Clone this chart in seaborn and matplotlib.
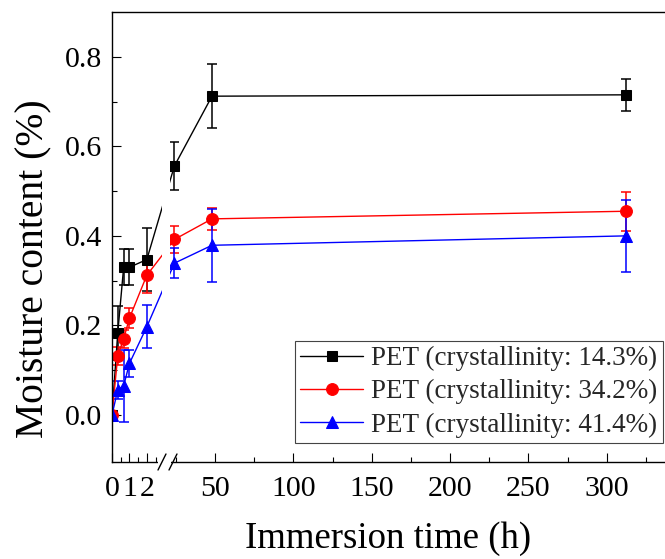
import numpy as np
import matplotlib
matplotlib.use("Agg")
import matplotlib.pyplot as plt
import seaborn as sns
from matplotlib.patches import Rectangle
from matplotlib.ticker import FixedLocator, FixedFormatter

# ---------------- data ----------------
time_h = [0, 0.33, 0.67, 1, 2, 24, 48, 312]
series_labels = ["PET (crystallinity: 14.3%)",
                 "PET (crystallinity: 34.2%)",
                 "PET (crystallinity: 41.4%)"]
moist_143 = [0.0, 0.183, 0.330, 0.330, 0.347, 0.556, 0.712, 0.715]
err_143 = [0.005, 0.060, 0.040, 0.040, 0.070, 0.054, 0.071, 0.035]
moist_342 = [0.0, 0.132, 0.170, 0.216, 0.312, 0.392, 0.438, 0.455]
err_342 = [0.005, 0.020, 0.020, 0.022, 0.040, 0.030, 0.025, 0.043]
moist_414 = [0.0, 0.056, 0.065, 0.115, 0.197, 0.339, 0.379, 0.400]
err_414 = [0.005, 0.020, 0.080, 0.030, 0.048, 0.033, 0.082, 0.080]

major_ticks = [0, 1, 2, 50, 100, 150, 200, 250, 300]
major_labels = ["0", "1", "2", "50", "100", "150", "200", "250", "300"]
minor_ticks = [0.5, 1.5, 2.5, 25, 75, 125, 175, 225, 275, 325]

# ---------------- style ----------------
sns.set_theme(style="ticks")
plt.rcParams["font.family"] = ["Liberation Serif", "DejaVu Serif"]

W, H = 665, 559
fig = plt.figure(figsize=(W / 100, H / 100), dpi=100)
ax_left, ax_right, ax_top, ax_bot = 112, 665, 12, 462
ax = fig.add_axes([ax_left / W, (H - ax_bot) / H,
                   (ax_right - ax_left) / W, (ax_bot - ax_top) / H])

# broken x axis as a piecewise-linear function scale
B1, B2 = 2.65, 20.0
K1, K2, GAP = 17.4, 1.5667, 10.0
P1 = B1 * K1
P2 = P1 + GAP


def fwd(x):
    x = np.asarray(x, dtype=float)
    return np.where(x <= B1, x * K1,
                    np.where(x >= B2, P2 + (x - B2) * K2,
                             P1 + (x - B1) * (GAP / (B2 - B1))))


def inv(d):
    d = np.asarray(d, dtype=float)
    return np.where(d <= P1, d / K1,
                    np.where(d >= P2, B2 + (d - P2) / K2,
                             B1 + (d - P1) * ((B2 - B1) / GAP)))


ax.set_xscale("function", functions=(fwd, inv))

colors = ["black", "#ff0000", "#0000ff"]
markers = ["s", "o", "^"]
msizes = [7, 8.5, 9]
values = [moist_143, moist_342, moist_414]
errors = [err_143, err_342, err_414]

for lab, vals, errs, c, m, ms in zip(series_labels, values, errors, colors, markers, msizes):
    ax.errorbar(time_h, vals, yerr=errs, fmt="none", ecolor=c, elinewidth=1.1,
                capsize=3.8, capthick=1.1, zorder=2)
    sns.lineplot(x=time_h, y=vals, color=c, marker=m, markersize=ms,
                 markeredgecolor=c, markerfacecolor=c, linewidth=1.0,
                 label=lab, ax=ax, zorder=2.1)

XR = B2 + ((ax_right - ax_left) - P2) / K2
ax.set_xlim(0, XR)
ax.set_ylim(-0.105, 0.9)

ax.xaxis.set_major_locator(FixedLocator(major_ticks))
ax.xaxis.set_major_formatter(FixedFormatter(major_labels))
ax.xaxis.set_minor_locator(FixedLocator(minor_ticks))
ax.set_yticks([0.0, 0.2, 0.4, 0.6, 0.8])
ax.set_yticklabels(["0.0", "0.2", "0.4", "0.6", "0.8"])
ax.yaxis.set_minor_locator(FixedLocator([0.1, 0.3, 0.5, 0.7]))

ax.tick_params(which="both", direction="in", width=0.8, colors="black",
               labelsize=21.5)
ax.tick_params(axis="y", which="both", pad=7)
ax.tick_params(axis="x", which="both", pad=10)
ax.tick_params(which="major", length=6.5)
ax.tick_params(which="minor", length=3.6)
ax.tick_params(axis="y", which="both", right=False)
ax.tick_params(axis="x", which="both", top=False)

for s in ["left", "bottom", "top"]:
    ax.spines[s].set_linewidth(1.0)
    ax.spines[s].set_color("black")
ax.spines["right"].set_visible(False)

# gap in the data lines and bottom spine
xt = ax.get_xaxis_transform()
ax.add_patch(Rectangle((9.4, 0.0), 21.0 - 9.4, 0.995, transform=xt,
                       facecolor="white", edgecolor="none", zorder=2.3))
ax.add_patch(Rectangle((2.75, -0.008), 22.0 - 2.75, 0.016, transform=xt,
                       facecolor="white", edgecolor="none", zorder=3,
                       clip_on=False))
for x0 in (0.0832, 0.1031):
    ax.plot([x0, x0 + 0.0144], [-0.0178, 0.0178], transform=ax.transAxes,
            color="black", lw=1.0, clip_on=False, zorder=4)

ax.set_xlabel("Immersion time (h)", fontsize=26.5, color="black")
ax.set_ylabel("Moisture content (%)", fontsize=28.5, color="black")
ax.xaxis.set_label_coords(0.5, -0.133)
ax.yaxis.set_label_coords(-0.108, 0.43)

handles, labels = ax.get_legend_handles_labels()
leg = ax.legend(handles, labels, loc="lower right", bbox_to_anchor=(0.9955, 0.042),
                borderaxespad=0, fontsize=19.5, frameon=True, fancybox=False,
                framealpha=1, edgecolor="#444444", handlelength=2.3,
                handletextpad=0.3, labelspacing=0.3, borderpad=0.2)
leg.get_frame().set_linewidth(0.8)

fig.savefig("out.png", dpi=100)
